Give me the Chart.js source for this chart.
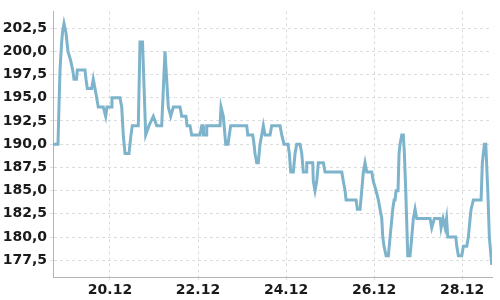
<!DOCTYPE html>
<html>
<head>
<meta charset="utf-8">
<script src="https://cdn.jsdelivr.net/npm/chart.js@4"></script>
<style>
  html, body { margin: 0; padding: 0; background: #fff; }
  #wrap { width: 500px; height: 300px; }
</style>
</head>
<body>
<div id="wrap"><canvas id="chart"></canvas></div>
<script>
// time in days of December (e.g. 20.5 = 20.12 noon), price values
var days = [
  18.705, 18.818, 18.864, 18.902, 18.920, 18.955, 19.000, 19.045, 19.107, 19.152,
  19.182, 19.239, 19.257, 19.432, 19.455, 19.484, 19.584, 19.620, 19.659, 19.698,
  19.734, 19.848, 19.902, 19.932, 20.039, 20.045, 20.227, 20.266, 20.302, 20.341,
  20.432, 20.477, 20.507, 20.643, 20.682, 20.739, 20.811, 20.886, 20.984, 21.061,
  21.175, 21.250, 21.325, 21.380, 21.439, 21.591, 21.630, 21.727, 21.750, 21.818,
  21.857, 22.045, 22.084, 22.114, 22.125, 22.182, 22.198, 22.500, 22.523, 22.575,
  22.630, 22.682, 22.711, 22.743, 23.107, 23.130, 23.243, 23.273, 23.295, 23.334,
  23.370, 23.409, 23.448, 23.484, 23.523, 23.636, 23.675, 23.864, 23.902, 23.955,
  24.045, 24.075, 24.107, 24.166, 24.205, 24.243, 24.318, 24.357, 24.393, 24.455,
  24.470, 24.607, 24.620, 24.659, 24.698, 24.734, 24.848, 24.886, 25.266, 25.302,
  25.341, 25.364, 25.591, 25.620, 25.682, 25.720, 25.757, 25.795, 25.834, 25.948,
  25.984, 26.045, 26.098, 26.136, 26.175, 26.198, 26.227, 26.273, 26.325, 26.364,
  26.425, 26.455, 26.477, 26.500, 26.545, 26.568, 26.591, 26.630, 26.666, 26.689,
  26.720, 26.766, 26.818, 26.857, 26.893, 26.932, 26.970, 27.273, 27.311, 27.370,
  27.500, 27.523, 27.568, 27.614, 27.648, 27.675, 27.857, 27.880, 27.916, 27.993,
  28.030, 28.107, 28.143, 28.182, 28.205, 28.257, 28.432, 28.461, 28.507, 28.539,
  28.584, 28.620, 28.675
];
var prices = [
  190, 190, 198, 201, 202, 203, 202, 200, 199, 198,
  197, 197, 198, 198, 197, 196, 196, 197, 196, 195,
  194, 194, 193, 194, 194, 195, 195, 194, 191, 189,
  189, 191, 192, 192, 201, 201, 191, 192, 193, 192,
  192, 200, 194, 193, 194, 194, 193, 193, 192, 192,
  191, 191, 192, 192, 191, 191, 192, 192, 194, 193,
  190, 190, 191, 192, 192, 191, 191, 190, 189, 188,
  188, 190, 191, 192, 191, 191, 192, 192, 191, 190,
  190, 189, 187, 187, 189, 190, 190, 189, 187, 187,
  188, 188, 186, 185, 186, 188, 188, 187, 187, 186,
  185, 184, 184, 183, 183, 185, 187, 188, 187, 187,
  186, 185, 184, 183, 182, 180, 179, 178, 178, 180,
  183, 184, 184, 185, 185, 189, 190, 191, 191, 189,
  185, 178, 178, 180, 182, 183, 182, 182, 181, 182,
  182, 181, 182, 181, 182, 180, 180, 179, 178, 178,
  179, 179, 180, 182, 183, 184, 184, 188, 190, 190,
  185, 180, 177
];
var xTicks = [20, 22, 24, 26, 28];
var yTicks = [177.5, 180, 182.5, 185, 187.5, 190, 192.5, 195, 197.5, 200, 202.5];

var points = [];
for (var i = 0; i < days.length; i++) {
  points.push({ x: days[i], y: prices[i] });
}

var gridStyle = {
  color: '#dcdcdc',
  lineWidth: 1,
  tickLength: 3,
  drawOnChartArea: true
};
// in v4 the dash of the grid lines lives under border
var borderStyle = { color: '#b4b4b4', width: 1, dash: [3, 3] };
var tickFont = { family: 'DejaVu Sans', size: 14, weight: 'bold' };

new Chart(document.getElementById('chart'), {
  type: 'line',
  data: {
    datasets: [{
      data: points,
      borderColor: 'rgb(125,180,204)',
      borderWidth: 3,
      pointRadius: 0,
      tension: 0,
      fill: false
    }]
  },
  options: {
    responsive: true,
    maintainAspectRatio: false,
    animation: false,
    layout: { padding: { top: 6, right: 8, left: 0, bottom: 0 } },
    plugins: {
      legend: { display: false },
      tooltip: { enabled: false }
    },
    scales: {
      x: {
        type: 'linear',
        min: 18.705,
        max: 28.68,
        afterBuildTicks: function (scale) {
          scale.ticks = xTicks.map(function (v) { return { value: v }; });
        },
        afterFit: function (scale) { scale.height = 23; },
        grid: gridStyle,
        border: borderStyle,
        ticks: {
          color: '#1a1a1a',
          font: tickFont,
          padding: 2,
          maxRotation: 0,
          callback: function (v) { return v + '.12'; }
        }
      },
      y: {
        min: 175.7,
        max: 204.3,
        afterBuildTicks: function (scale) {
          scale.ticks = yTicks.map(function (v) { return { value: v }; });
        },
        afterFit: function (scale) { scale.width = 53; },
        grid: gridStyle,
        border: borderStyle,
        ticks: {
          color: '#1a1a1a',
          font: tickFont,
          padding: 3,
          callback: function (v) { return v.toFixed(1).replace('.', ','); }
        }
      }
    }
  }
});
</script>
</body>
</html>
